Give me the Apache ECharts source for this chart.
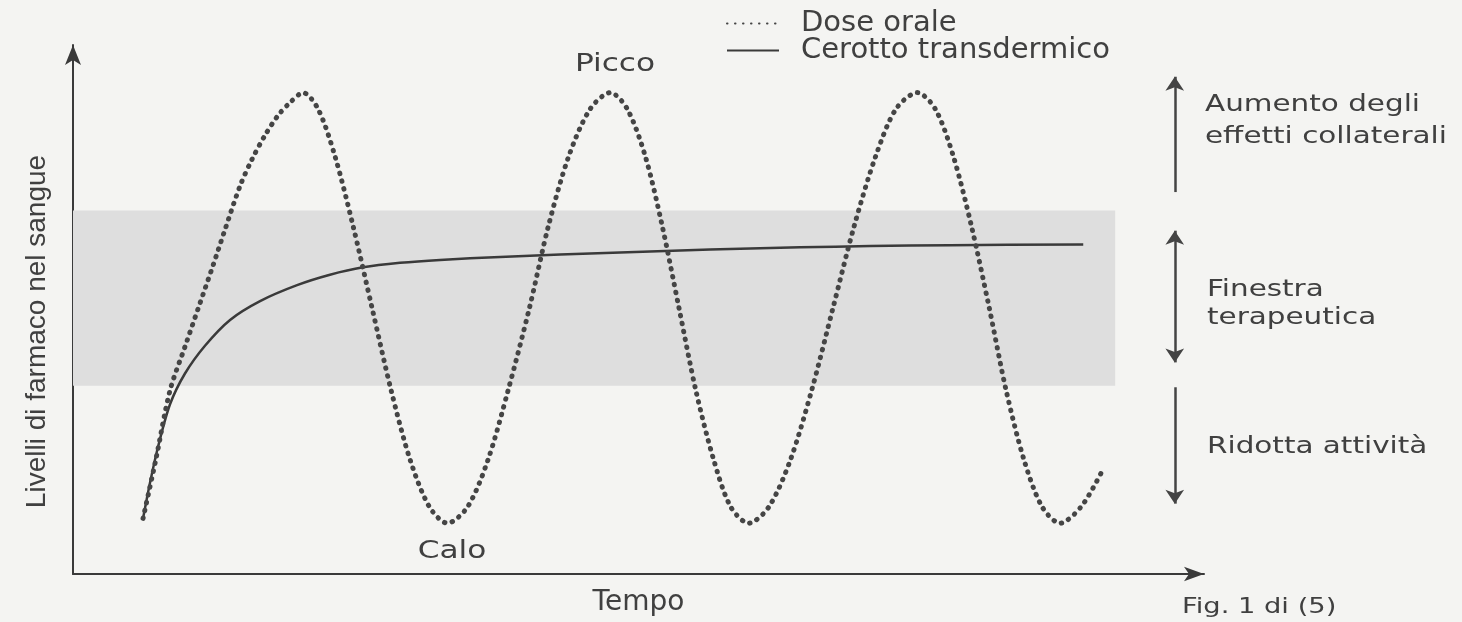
<!DOCTYPE html>
<html>
<head>
<meta charset="utf-8">
<script src="https://cdn.jsdelivr.net/npm/echarts@6/dist/echarts.min.js"></script>
<style>
  html, body { margin: 0; padding: 0; background: #f4f4f2; }
  #chart { width: 1462px; height: 622px; }
</style>
</head>
<body>
<div id="chart"></div>
<script>
// ---- Data (time units 0..~100, level units 0..100) ----
const seriesNames = ['Dose orale', 'Cerotto transdermico'];

// Oral dose (dotted): [time, level]
const oralDose = [
  [6.23, 10.51], [7.38, 21.76], [8.63, 34.71], [9.96, 42.96], [11.30, 51.22], [12.46, 58.35],
  [13.52, 65.10], [14.86, 73.36], [15.93, 78.42], [17.08, 82.93], [18.24, 86.68], [19.31, 89.12], [20.46, 90.99],
  [21.8, 87.9], [23.3, 79.0], [24.9, 65.9], [26.6, 50.3], [28.3, 34.7], [30.0, 21.5], [31.7, 12.7], [33.3, 9.6],
  [35.1, 12.7], [36.9, 21.5], [38.7, 34.7], [40.6, 50.3], [42.3, 65.9], [44.1, 79.0], [46.0, 87.9], [47.8, 91.0],
  [49.3, 87.9], [50.9, 79.0], [52.4, 65.9], [53.9, 50.3], [55.4, 34.7], [57.0, 21.5], [58.5, 12.7], [60.1, 9.6],
  [61.9, 12.7], [63.8, 21.5], [65.7, 34.7], [67.6, 50.3], [69.5, 65.9], [71.4, 79.0], [73.2, 87.9], [75.1, 91.0],
  [76.7, 87.9], [78.3, 79.0], [79.9, 65.9], [81.5, 50.3], [83.0, 34.7], [84.6, 21.5], [86.2, 12.7], [87.8, 9.6],
  [89.7, 12.8], [91.5, 19.3]
];

// Transdermal patch (solid): [time, level]
const patch = [
  [6.23, 10.51], [6.85, 17.26], [7.56, 24.02], [8.63, 32.08], [9.96, 37.90], [11.74, 43.15],
  [13.97, 48.03], [16.64, 51.59], [19.93, 54.60], [22.86, 56.57], [25.80, 57.97], [29.09, 58.82],
  [32.65, 59.38], [37.99, 59.94], [43.33, 60.38], [48.67, 60.79], [54.00, 61.16], [59.34, 61.50],
  [64.68, 61.76], [70.91, 61.99], [78.02, 62.16], [89.86, 62.29]
];

// Therapeutic window (band)
const windowLevels = { low: 35.6, high: 68.7 };
const windowTime = { start: 0, end: 92.7 };

// Zone arrows on the right: [time, fromLevel, toLevel, arrowAtStart, arrowAtEnd]
const zoneArrows = [
  [98.0, 72.2, 94.0, false, true],   // Aumento degli effetti collaterali
  [98.0, 40.0, 64.9, true, true],    // Finestra terapeutica
  [98.0, 35.3, 13.3, false, true]    // Ridotta attività
];

const xMax = 100.6;
const yMax = 100;

const textColor = '#404040';
const lineColor = '#3a3a3a';

const chart = echarts.init(document.getElementById('chart'));

function annot(text, x, y, opts) {
  opts = opts || {};
  return {
    type: 'text',
    x: x, y: y,
    scaleX: opts.scaleX || 1.28,
    silent: true,
    style: {
      text: text,
      x: 0, y: 0,
      fill: textColor,
      font: (opts.size || 23) + 'px "DejaVu Sans"',
      textAlign: opts.align || 'left',
      textVerticalAlign: 'middle'
    }
  };
}

const option = {
  backgroundColor: '#f4f4f2',
  animation: false,
  grid: { left: 73, right: 258, top: 45, bottom: 44 },
  legend: {
    data: seriesNames,
    orient: 'vertical',
    left: 726,
    top: 9,
    padding: 0,
    itemWidth: 52,
    itemHeight: 14,
    itemGap: -2,
    selectedMode: false,
    itemStyle: { opacity: 0 },
    textStyle: {
      fontFamily: 'DejaVu Sans',
      fontSize: 29,
      color: textColor,
      padding: [0, 0, 0, 17]
    }
  },
  xAxis: {
    type: 'value',
    min: 0,
    max: xMax,
    name: 'Tempo',
    nameLocation: 'middle',
    nameGap: 15,
    nameTextStyle: { fontFamily: 'DejaVu Sans', fontSize: 28, color: textColor },
    axisLine: {
      show: true,
      lineStyle: { color: lineColor, width: 2 },
      symbol: ['none', 'arrow'],
      symbolSize: [11, 20]
    },
    axisTick: { show: false },
    axisLabel: { show: false },
    splitLine: { show: false }
  },
  yAxis: {
    type: 'value',
    min: 0,
    max: yMax,
    name: 'Livelli di farmaco nel sangue',
    nameLocation: 'middle',
    nameGap: 22,
    nameTextStyle: {
      fontFamily: 'Liberation Sans',
      fontSize: 28,
      color: textColor,
      padding: [0, 44, 0, 0]
    },
    axisLine: {
      show: true,
      lineStyle: { color: lineColor, width: 2 },
      symbol: ['none', 'arrow'],
      symbolSize: [12, 20]
    },
    axisTick: { show: false },
    axisLabel: { show: false },
    splitLine: { show: false }
  },
  series: [
    {
      name: seriesNames[0],
      type: 'line',
      data: oralDose,
      symbol: 'none',
      smooth: 0.3,
      z: 4,
      lineStyle: { color: '#454545', width: 5, type: [0.5, 7.5], cap: 'round' },
      itemStyle: { color: '#454545' }
    },
    {
      name: seriesNames[1],
      type: 'line',
      data: patch,
      symbol: 'none',
      smooth: 0.3,
      z: 3,
      lineStyle: { color: '#3a3a3a', width: 2.5 },
      itemStyle: { color: '#3a3a3a' },
      markArea: {
        silent: true,
        itemStyle: { color: '#dedede' },
        data: [[
          { xAxis: windowTime.start, yAxis: windowLevels.low },
          { xAxis: windowTime.end, yAxis: windowLevels.high }
        ]]
      },
      markLine: {
        silent: true,
        symbolSize: 14,
        label: { show: false },
        lineStyle: { color: '#444', width: 2.5, type: 'solid' },
        data: zoneArrows.map(a => [
          { coord: [a[0], a[1]], symbol: a[3] ? 'arrow' : 'none' },
          { coord: [a[0], a[2]], symbol: a[4] ? 'arrow' : 'none' }
        ])
      }
    }
  ],
  graphic: [
    annot('Picco', 615, 65, { align: 'center', size: 24, scaleX: 1.3 }),
    annot('Calo', 452, 552, { align: 'center', size: 24, scaleX: 1.3 }),
    annot('Aumento degli', 1205, 105),
    annot('effetti collaterali', 1205, 137),
    annot('Finestra', 1207, 290),
    annot('terapeutica', 1207, 318),
    annot('Ridotta attività', 1207, 447),
    annot('Fig. 1 di (5)', 1182, 608, { size: 21, scaleX: 1.3 })
  ]
};

chart.setOption(option);
</script>
</body>
</html>
